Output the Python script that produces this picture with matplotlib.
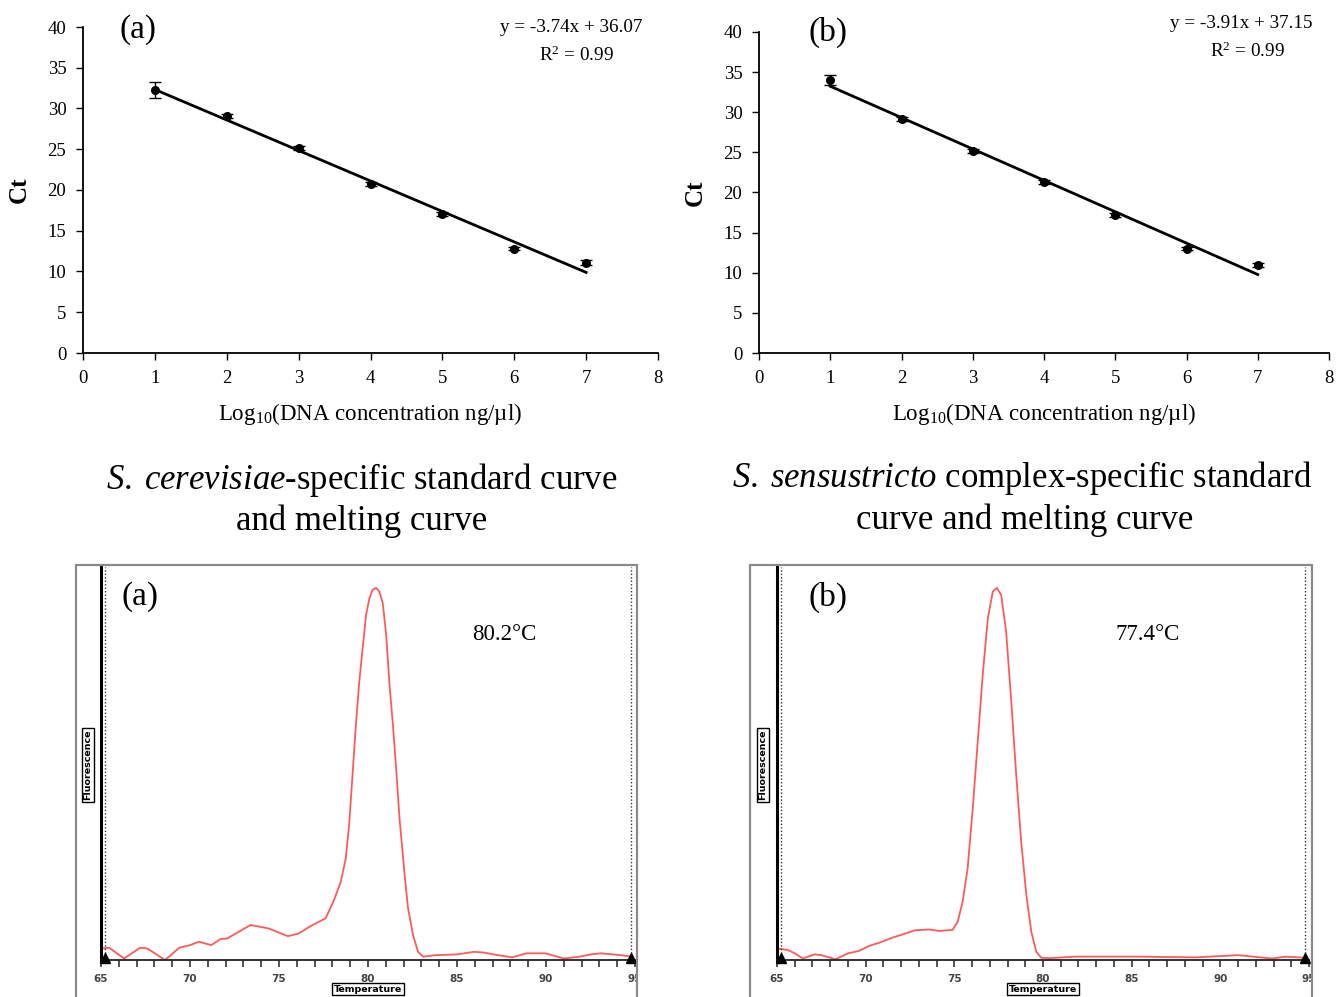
import numpy as np
import matplotlib
matplotlib.use("Agg")
import matplotlib.pyplot as plt
from matplotlib.patches import Rectangle
from matplotlib.transforms import Bbox

plt.rcParams['font.family'] = ['Liberation Serif', 'DejaVu Serif']
plt.rcParams['mathtext.fontset'] = 'custom'
plt.rcParams['mathtext.rm'] = 'Liberation Serif'
plt.rcParams['mathtext.it'] = 'Liberation Serif:italic'
plt.rcParams['mathtext.bf'] = 'Liberation Serif:bold'

# ---------------- data ----------------
log_conc = [1, 2, 3, 4, 5, 6, 7]
ct_a = [32.3, 29.1, 25.1, 20.7, 17.0, 12.8, 11.1]
err_a = [1.0, 0.25, 0.25, 0.25, 0.25, 0.2, 0.25]
ct_b = [34.0, 29.2, 25.2, 21.3, 17.2, 13.0, 11.0]
err_b = [0.65, 0.25, 0.25, 0.2, 0.25, 0.2, 0.25]
slope_a, intercept_a = -3.74, 36.07
slope_b, intercept_b = -3.91, 37.15
eq_a = "y = -3.74x + 36.07"
eq_b = "y = -3.91x + 37.15"
r2_text = "R$^2$ = 0.99"

ct_xticks = [0, 1, 2, 3, 4, 5, 6, 7, 8]
ct_yticks = [0, 5, 10, 15, 20, 25, 30, 35, 40]

temp_a = [65.0, 65.46, 66.3, 67.2, 67.6, 68.6, 69.4, 70.0, 70.5, 71.2, 71.7, 72.1,
          72.75, 73.4, 74.4, 75.5, 76.1, 76.7, 77.25, 77.62, 78.09, 78.47, 78.75,
          78.94, 79.13, 79.32, 79.51, 79.7, 79.89, 80.08, 80.26, 80.45, 80.64,
          80.83, 81.02, 81.21, 81.4, 81.58, 81.77, 82.06, 82.25, 82.53, 82.81,
          83.09, 83.8, 85.0, 85.95, 86.5, 87.3, 88.1, 88.9, 89.96, 91.0,
          91.9, 92.5, 93.1, 94.2, 94.8]
fluor_a = [0.031, 0.033, 0.004, 0.033, 0.031, 0.0, 0.033, 0.040, 0.049, 0.040,
           0.056, 0.058, 0.076, 0.094, 0.085, 0.064, 0.071, 0.089, 0.103, 0.112,
           0.161, 0.210, 0.273, 0.363, 0.497, 0.632, 0.748, 0.838, 0.927, 0.972,
           0.995, 1.0, 0.990, 0.959, 0.874, 0.739, 0.632, 0.515, 0.381, 0.228,
           0.139, 0.067, 0.022, 0.009, 0.013, 0.015, 0.022, 0.020,
           0.013, 0.007, 0.018, 0.018, 0.004, 0.009, 0.015, 0.018, 0.013, 0.009]

temp_b = [65.0, 65.6, 66.0, 66.46, 67.1, 67.5, 68.3, 69.0, 69.6, 70.2, 70.8, 71.5,
          72.1, 72.8, 73.6, 74.15, 74.9, 75.19, 75.47, 75.75, 76.04, 76.32, 76.6,
          76.89, 77.17, 77.4, 77.64, 77.92, 78.21, 78.49, 78.77, 79.06, 79.34,
          79.62, 79.91, 80.38, 81.8, 83.5, 85.4, 88.6, 91.0, 92.9, 93.7, 94.8]
fluor_b = [0.031, 0.027, 0.018, 0.004, 0.015, 0.013, 0.002, 0.018, 0.024, 0.038,
           0.047, 0.060, 0.069, 0.080, 0.082, 0.078, 0.081, 0.103, 0.157, 0.246,
           0.408, 0.587, 0.766, 0.918, 0.990, 1.0, 0.981, 0.883, 0.695, 0.497,
           0.318, 0.175, 0.076, 0.022, 0.006, 0.005, 0.009, 0.009, 0.009, 0.007,
           0.013, 0.004, 0.009, 0.006]

temp_ticks = list(range(65, 96))
temp_ticklabels = [str(t) if t % 5 == 0 else '' for t in temp_ticks]
tm_a = "80.2°C"
tm_b = "77.4°C"
title_a = ["$\\it{S.\\;cerevisiae}$-specific standard curve", "and melting curve"]
title_b = ["$\\it{S.\\;sensustricto}$ complex-specific standard", "curve and melting curve"]

# ---------------- layout helpers ----------------
W, H = 1336, 997
fig = plt.figure(figsize=(W / 100, H / 100), dpi=100)

def axes_px(l, r, t, b):
    return fig.add_axes([l / W, 1 - b / H, (r - l) / W, (b - t) / H])

def ftext(x, y, s, **kw):
    return fig.text(x / W, 1 - y / H, s, **kw)

# ---------------- standard curves ----------------
def std_curve(ax, ct, err, slope, intercept):
    ax.errorbar(log_conc, ct, yerr=err, fmt='o', color='black', ms=5.5,
                elinewidth=1, capsize=4, capthick=1, zorder=3)
    xs = np.array([log_conc[0], log_conc[-1]])
    ax.plot(xs, slope * xs + intercept, color='black', lw=2)
    ax.set_xlim(0, 8)
    ax.set_ylim(0, 40)
    ax.set_xticks(ct_xticks)
    ax.set_yticks(ct_yticks)
    ax.tick_params(direction='out', length=5, width=1, labelsize=13.5, pad=7)
    for s in ['top', 'right']:
        ax.spines[s].set_visible(False)
    for s in ['left', 'bottom']:
        ax.spines[s].set_linewidth(1.3)
    ax.set_ylabel('Ct', fontsize=18, fontweight='bold', labelpad=12)
    ax.set_xlabel('Log$_{10}$(DNA concentration ng/µl)', fontsize=16.5, labelpad=10)

ax1 = axes_px(83, 658, 27, 353)
std_curve(ax1, ct_a, err_a, slope_a, intercept_a)
ax2 = axes_px(759, 1329, 32, 353)
std_curve(ax2, ct_b, err_b, slope_b, intercept_b)

ftext(138, 30, '(a)', fontsize=24, ha='center', va='center')
ftext(828, 32, '(b)', fontsize=24, ha='center', va='center')
ftext(642, 27, eq_a, fontsize=13.8, ha='right', va='center')
ftext(577, 55, r2_text, fontsize=13.8, ha='center', va='center')
ftext(1313, 24, eq_b, fontsize=13.8, ha='right', va='center')
ftext(1248, 51, r2_text, fontsize=13.8, ha='center', va='center')

# titles
ftext(362, 480, title_a[0], fontsize=25, ha='center', va='center')
ftext(362, 521, title_a[1], fontsize=25, ha='center', va='center')
ftext(1022, 478, title_b[0], fontsize=25, ha='center', va='center')
ftext(1025, 520, title_b[1], fontsize=25, ha='center', va='center')

# ---------------- melting curves ----------------
def melt(box, axlr, temp, fluor, label, tm, labelx, tmx, fluorx, tempx):
    bl, br = box
    rect = Rectangle((bl / W, -0.02), (br - bl) / W, 1 - 565 / H + 0.02,
                     transform=fig.transFigure, fill=False, edgecolor='#8a8a8a',
                     lw=1.6, zorder=0)
    fig.patches.append(rect)
    ax = axes_px(axlr[0], axlr[1], 567, 960)
    ax.set_facecolor('none')
    ax.plot(temp, fluor, color='#ff5a5a', lw=1.3)
    ax.set_xlim(65, 95)
    ax.set_ylim(0, 1.056)
    ax.axvline(65.25, color='#333333', lw=1, ls=(0, (1, 1.5)))
    ax.axvline(94.8, color='#333333', lw=1, ls=(0, (1, 1.5)))
    ax.plot([65.25, 94.8], [0.005, 0.005], ls='none', marker='^', ms=7,
            color='black', clip_on=False, zorder=5)
    for s in ['top', 'right']:
        ax.spines[s].set_visible(False)
    ax.spines['left'].set_linewidth(2.2)
    ax.spines['left'].set_color('black')
    ax.spines['bottom'].set_linewidth(1.3)
    ax.spines['bottom'].set_color('#222222')
    ax.set_yticks([])
    ax.set_xticks(temp_ticks)
    ax.set_xticklabels(temp_ticklabels, fontfamily='DejaVu Sans', fontsize=7.5,
                       fontweight='bold', color='#444444')
    ax.tick_params(axis='x', direction='out', length=5, width=1.2, pad=5,
                   color='#333333')
    clipbox = Bbox.from_extents(bl, 0, br, H)
    for lab in ax.get_xticklabels():
        lab.set_clip_box(clipbox)
        lab.set_clip_on(True)
    ftext(labelx, 597, label, fontsize=24, ha='center', va='center')
    ftext(tmx, 634, tm, fontsize=16.5, ha='center', va='center')
    ftext(fluorx, 765, 'Fluorescence', fontfamily='DejaVu Sans', fontsize=6.8,
          fontweight='bold', rotation=90, ha='center', va='center',
          bbox=dict(boxstyle='square,pad=0.15', fc='white', ec='black', lw=1))
    ftext(tempx, 989, 'Temperature', fontfamily='DejaVu Sans', fontsize=6.8,
          fontweight='bold', ha='center', va='center',
          bbox=dict(boxstyle='square,pad=0.15', fc='white', ec='black', lw=1))
    return ax

melt((76, 637), (101, 635), temp_a, fluor_a, '(a)', tm_a, 140, 504, 88, 368)
melt((750, 1312), (777, 1309), temp_b, fluor_b, '(b)', tm_b, 828, 1148, 763, 1043)

fig.savefig('out.png', dpi=100)
